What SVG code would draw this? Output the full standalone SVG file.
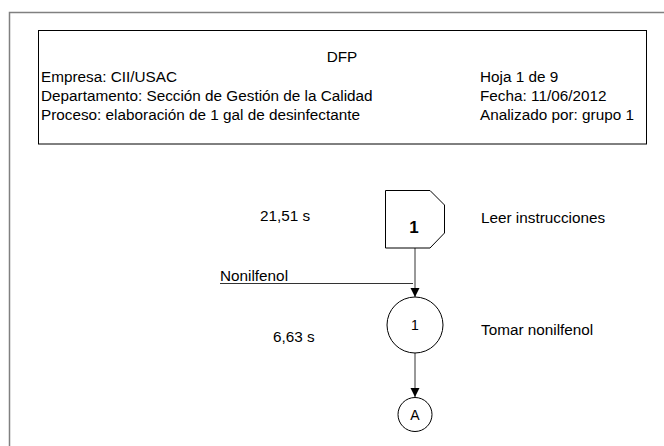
<svg xmlns="http://www.w3.org/2000/svg" width="664" height="446" viewBox="0 0 664 446">
<style>
text{font-family:"Liberation Sans",Arial,sans-serif;font-size:15.3px;fill:#000}
.shape{fill:#fff;stroke:#000;stroke-width:1}
.conn{stroke:#333;stroke-width:1;fill:none}
</style>
<defs>
<marker id="arr" markerWidth="10" markerHeight="10" refX="9" refY="5" orient="auto" markerUnits="userSpaceOnUse">
<path d="M0,0.5 L9,5 L0,9.5 Z" fill="#000"/>
</marker>
</defs>
<rect width="664" height="446" fill="#fff"/>
<g id="frame">
<path d="M9.5,446 V12.5 H664" fill="none" stroke="#808080" stroke-width="1.5"/>
</g>
<g id="header">
<rect x="38.5" y="30.5" width="608" height="113.5" class="shape"/>
<text x="342" y="62" text-anchor="middle">DFP</text>
<text x="41" y="82">Empresa: CII/USAC</text>
<text x="41" y="101">Departamento: Sección de Gestión de la Calidad</text>
<text x="41" y="120">Proceso: elaboración de 1 gal de desinfectante</text>
<text x="480" y="82">Hoja 1 de 9</text>
<text x="480" y="101">Fecha: 11/06/2012</text>
<text x="480" y="120">Analizado por: grupo 1</text>
</g>
<g id="connectors">
<line x1="415" y1="248" x2="415" y2="297" class="conn" marker-end="url(#arr)"/>
<line x1="220" y1="283.5" x2="413" y2="283.5" class="conn"/>
<line x1="415" y1="353" x2="415" y2="397" class="conn" marker-end="url(#arr)"/>
</g>
<g id="n_leer">
<path d="M385.5,190.5 H430 L444.5,205 V233 L430,248 H385.5 Z" class="shape" stroke="#555"/>
<text x="414" y="233" text-anchor="middle" font-weight="bold" style="font-size:17px">1</text>
<text x="260" y="221">21,51 s</text>
<text x="481" y="223">Leer instrucciones</text>
</g>
<g id="n_nonilfenol_label">
<text x="220" y="281">Nonilfenol</text>
</g>
<g id="n_tomar">
<circle cx="415" cy="325" r="28" class="shape"/>
<text x="415" y="330" text-anchor="middle" style="font-size:14px">1</text>
<text x="273" y="342">6,63 s</text>
<text x="481" y="335">Tomar nonilfenol</text>
</g>
<g id="n_A">
<circle cx="415" cy="414.5" r="17" class="shape"/>
<text x="415" y="420" text-anchor="middle" style="font-size:14px">A</text>
</g>
</svg>
